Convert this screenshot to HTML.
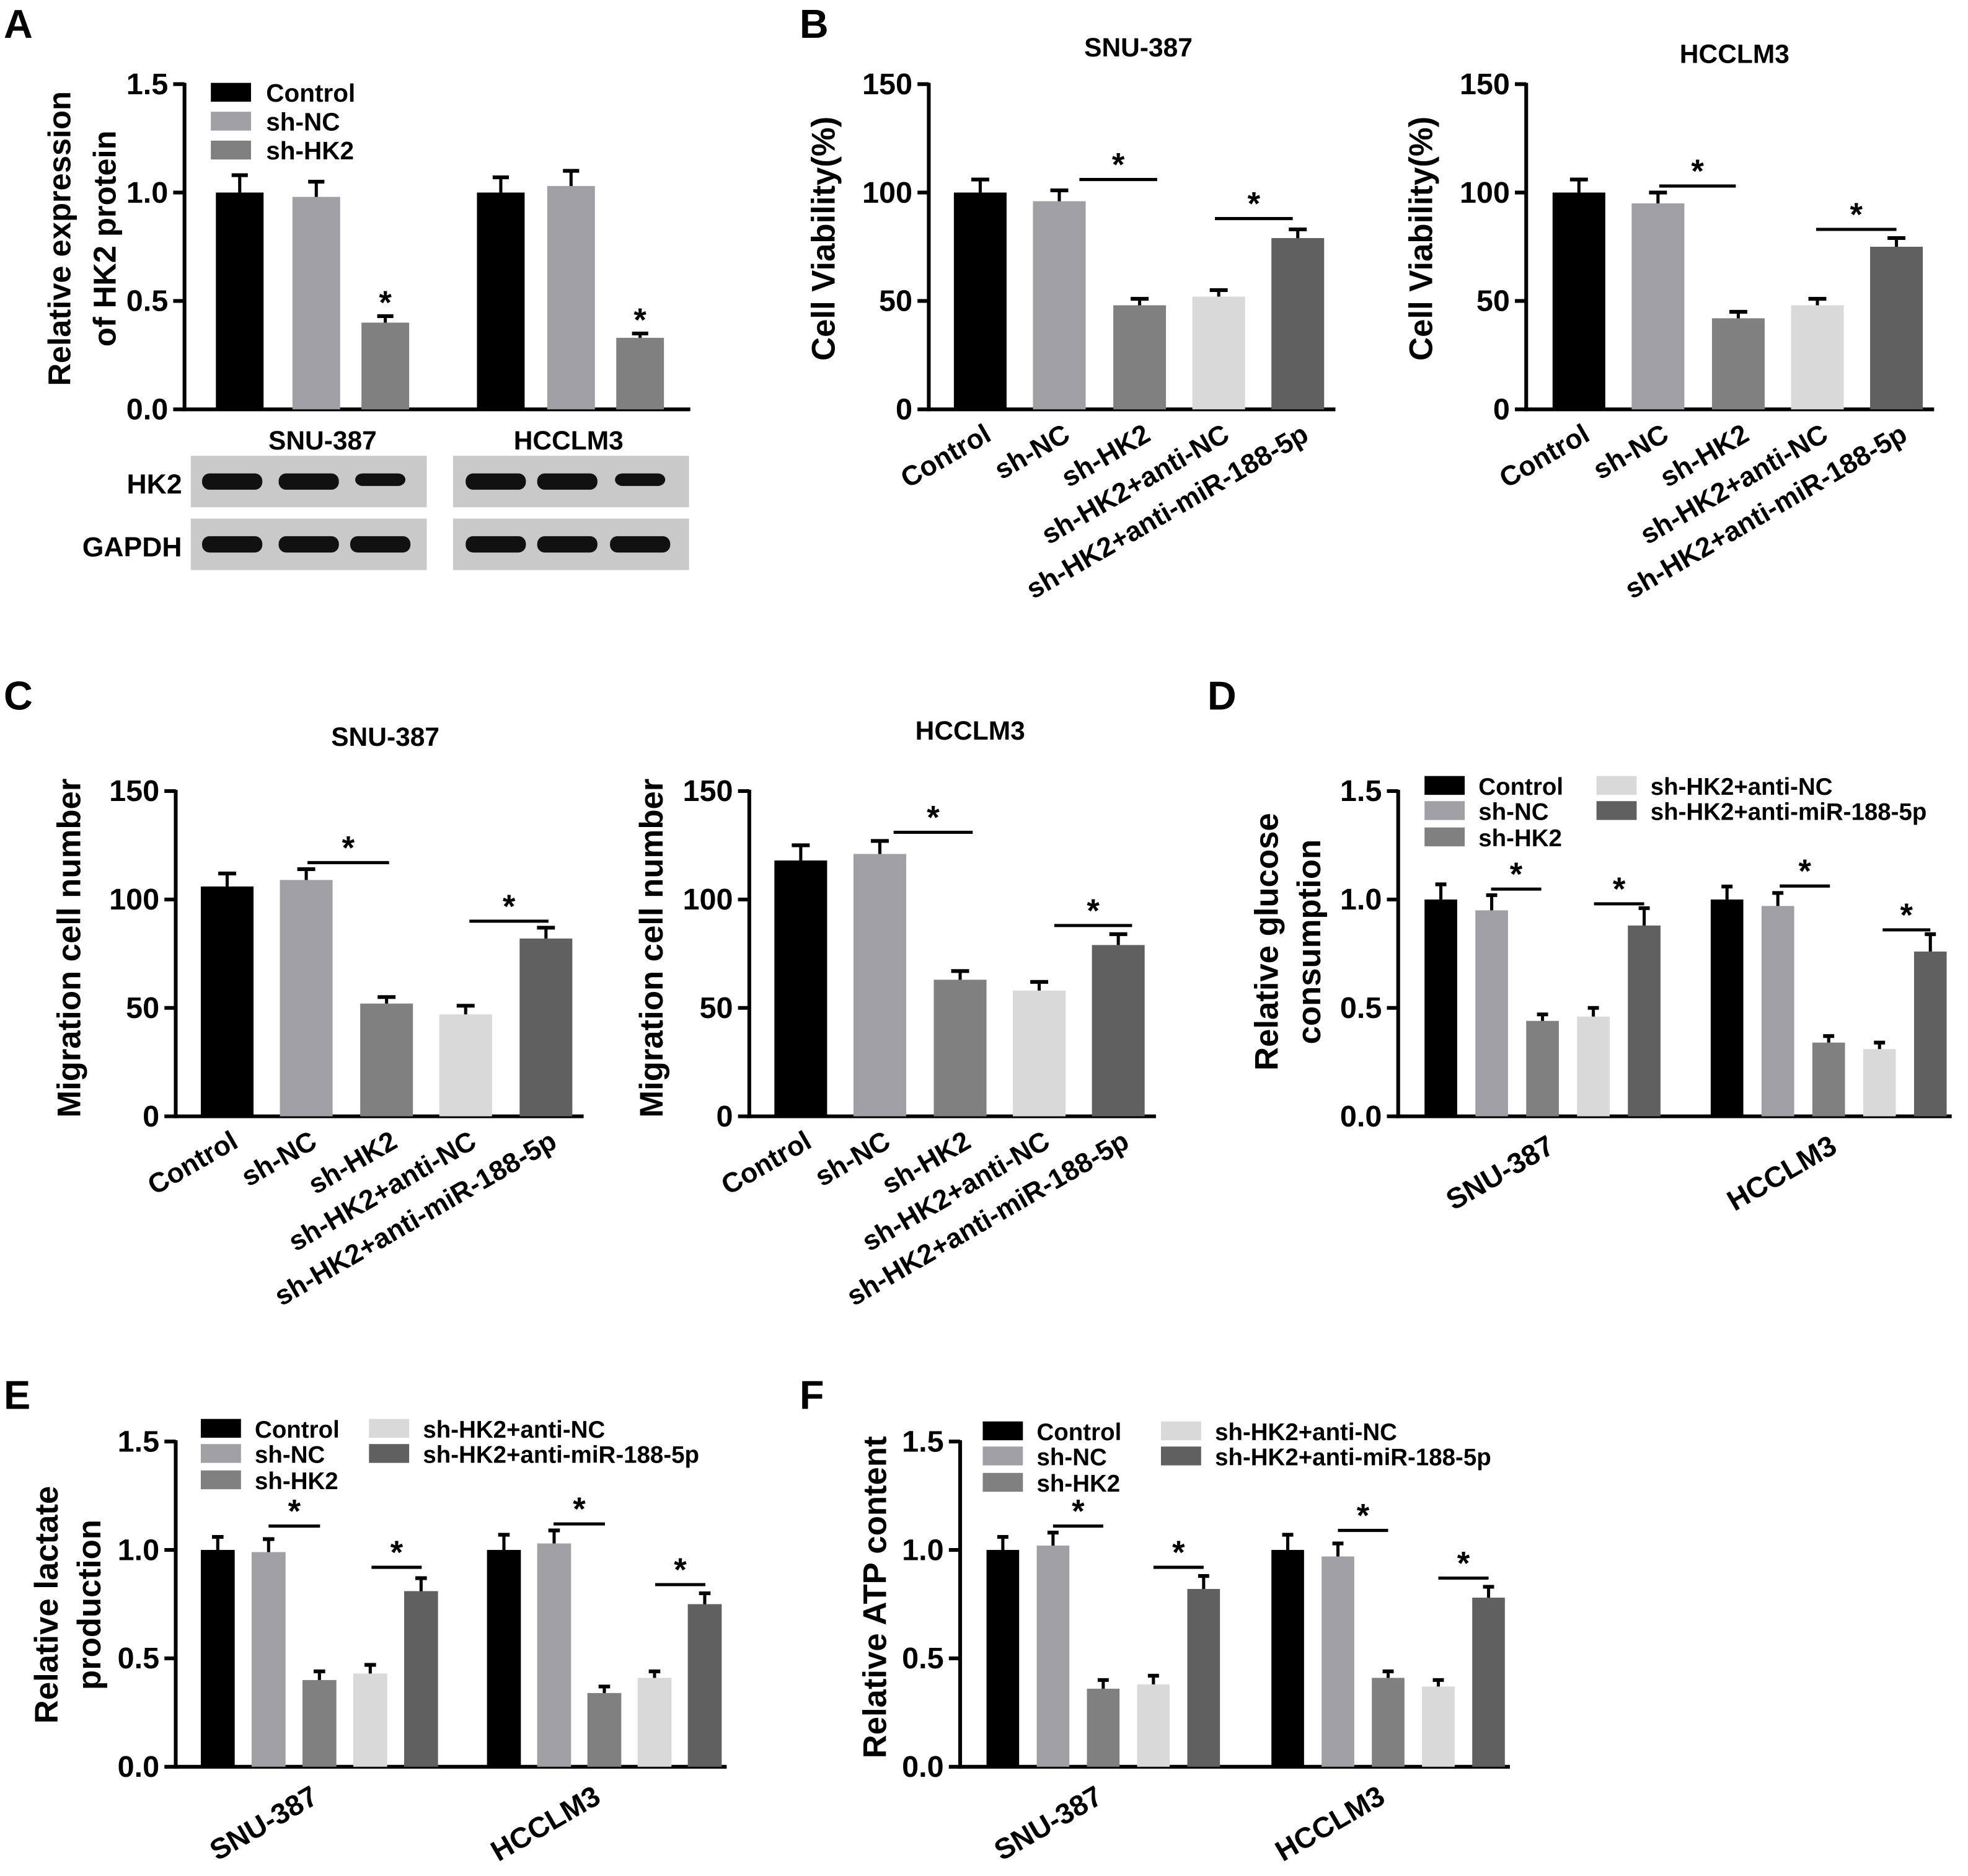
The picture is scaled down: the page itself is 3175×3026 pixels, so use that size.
<!DOCTYPE html>
<html><head><meta charset="utf-8"><style>
html,body{margin:0;padding:0;background:#fff}
svg{display:block}
text{font-family:"Liberation Sans",Arial,sans-serif;font-weight:bold;fill:#000}
</style></head><body>
<svg id="fig" width="3175" height="3026" viewBox="0 0 1568 1494" preserveAspectRatio="none" xmlns="http://www.w3.org/2000/svg">
<g id="root"></g>
</svg>
<script>
// ---- data ----
const groupsFive = ["Control","sh-NC","sh-HK2","sh-HK2+anti-NC","sh-HK2+anti-miR-188-5p"];
const groupsThree = ["Control","sh-NC","sh-HK2"];
const cellLines = ["SNU-387","HCCLM3"];
const ticksRel = [0,0.5,1.0,1.5];
const ticksRelLabels = ["0.0","0.5","1.0","1.5"];
const ticksCnt = [0,50,100,150];
const ticksCntLabels = ["0","50","100","150"];
const aVals = [[1.0,0.98,0.40],[1.0,1.03,0.33]];
const aErr = [[0.08,0.07,0.03],[0.07,0.07,0.02]];
const bSnuVals = [100,96,48,52,79];
const bSnuErr = [6,5,3,3,4];
const bHccVals = [100,95,42,48,75];
const bHccErr = [6,5,3,3,4];
const cSnuVals = [106,109,52,47,82];
const cSnuErr = [6,5,3,4,5];
const cHccVals = [118,121,63,58,79];
const cHccErr = [7,6,4,4,5];
const dVals = [[1.0,0.95,0.44,0.46,0.88],[1.0,0.97,0.34,0.31,0.76]];
const dErr = [[0.07,0.07,0.03,0.04,0.08],[0.06,0.06,0.03,0.03,0.08]];
const eVals = [[1.0,0.99,0.40,0.43,0.81],[1.0,1.03,0.34,0.41,0.75]];
const eErr = [[0.06,0.06,0.04,0.04,0.06],[0.07,0.06,0.03,0.03,0.05]];
const fVals = [[1.0,1.02,0.36,0.38,0.82],[1.0,0.97,0.41,0.37,0.78]];
const fErr = [[0.06,0.06,0.04,0.04,0.06],[0.07,0.06,0.03,0.03,0.05]];
const colors = ["#000000","#a0a0a4","#808080","#d9d9d9","#606060"];

const NS="http://www.w3.org/2000/svg";
const root=document.getElementById('root');
function el(tag,attrs,parent,txt){const e=document.createElementNS(NS,tag);for(const k in attrs)e.setAttribute(k,attrs[k]);if(txt!==undefined)e.textContent=txt;(parent||root).appendChild(e);return e;}

function axis(g,ax,y0,yTop,max,ticks,labels,xEnd){
  const sy=v=>y0-(v/max)*(y0-yTop);
  const a=el('line',{x1:ax,y1:y0+1.5,x2:ax,y2:yTop-1,stroke:'#000','stroke-width':3},g);
  
  
  const b=el('line',{x1:ax-1.5,y1:y0,x2:xEnd,y2:y0,stroke:'#000','stroke-width':3},g);
  
  
  ticks.forEach((t,i)=>{
    el('line',{x1:ax-9,y1:sy(t),x2:ax,y2:sy(t),stroke:'#000','stroke-width':3},g);
    const tl=el('text',{x:ax-13,y:sy(t)+8,'text-anchor':'end','font-size':24},g,labels[i]);
    
    
  });
  return sy;
}
function bar(g,sy,y0,x,w,v,e,c){
  const r=el('rect',{x:x,y:sy(v),width:w,height:y0-sy(v),fill:c},g);
  
  
  const cx=x+w/2;
  el('line',{x1:cx,y1:sy(v),x2:cx,y2:sy(v+e),stroke:'#000','stroke-width':2.5},g);
  el('line',{x1:cx-w*0.17,y1:sy(v+e),x2:cx+w*0.17,y2:sy(v+e),stroke:'#000','stroke-width':3},g);
}
function sig(g,x1,x2,y,fs){
  const l=el('line',{x1:x1,y1:y,x2:x2,y2:y,stroke:'#000','stroke-width':2.5},g);
  
  
  const s=el('text',{x:(x1+x2)/2,y:y-3,'text-anchor':'middle','font-size':fs||26},g,'*');
  
  
}
function ytitle(g,lines,xs,cy,fs){
  lines.forEach((t,i)=>{
    const tt=el('text',{x:xs[i],y:cy,'text-anchor':'middle','font-size':fs||25,transform:`rotate(-90 ${xs[i]} ${cy})`},g,t);
    
    
  });
}
function xlab(g,x,y,t,fs){
  const tt=el('text',{x:x,y:y,'text-anchor':'end','font-size':fs||21,transform:`rotate(-30 ${x} ${y})`},g,t);
  
  
}
function letter(x,y,t){
  const l=el('text',{x:x,y:y,'font-size':32},root,t);
  
  
}
function legend(g,x,ys,tx,names,cols,fs){
  names.forEach((n,i)=>{
    const r=el('rect',{x:x,y:ys[i]-8,width:32,height:15,fill:cols[i]},g);
    
    
    const t=el('text',{x:tx,y:ys[i]+7,'font-size':fs||20},g,n);
    
    
  });
}
function title(g,x,y,t){
  const tt=el('text',{x:x,y:y,'text-anchor':'middle','font-size':21},g,t);
  
  
}

letter(3,30,'A');letter(637,30,'B');letter(3,565,'C');letter(962,565,'D');letter(3,1122,'E');letter(637,1122,'F');

// ---- Panel A ----
(function(){
  const g=el('g',{});  
  const y0=326,ax=147;
  const sy=axis(g,ax,y0,67,1.5,ticksRel,ticksRelLabels,550);
  const starts=[[172,233,288],[380,436,491]];
  aVals.forEach((grp,gi)=>grp.forEach((v,i)=>{
    bar(g,sy,y0,starts[gi][i],38,v,aErr[gi][i],colors[i]);
    if(i===2){el('text',{x:starts[gi][i]+19,y:sy(v+aErr[gi][i])-2,'text-anchor':'middle','font-size':26},g,'*');}
  }));
  legend(g,168,[74,97,120],212,groupsThree,colors.slice(0,3),20);
  ytitle(g,["Relative expression","of HK2 protein"],[56,92],190,25);
  title(g,257,358,cellLines[0]);title(g,453,358,cellLines[1]);
  const bl=el('g',{});  
  [[152,[185,246,303]],[361,[395,452,510]]].forEach(([bx,lanes],bi)=>{
    [363,413].forEach((by,ri)=>{
      el('rect',{x:bx,y:by,width:188,height:41,fill:'#c9c9c9'},bl);
      lanes.forEach((lx,li)=>{
        const w=(ri===0&&li===2)?40:48;
        el('rect',{x:lx-w/2,y:by+14,width:w,height:ri===0&&li===2?10:13,rx:6,fill:'#111'},bl);
      });
    });
  });
  el('text',{x:145,y:393,'text-anchor':'end','font-size':22},bl,'HK2');
  el('text',{x:145,y:443,'text-anchor':'end','font-size':22},bl,'GAPDH');
})();

// ---- five-bar panels (B, C) ----
function fivePanel(name,ax,y0,yTop,centers,vals,errs,sigs,ttl,ttlx,ttly,ytl,ytx,yty){
  const g=el('g',{});  
  const sy=axis(g,ax,y0,yTop,150,ticksCnt,ticksCntLabels,centers[4]+30);
  vals.forEach((v,i)=>bar(g,sy,y0,centers[i]-21,42,v,errs[i],colors[i]));
  sigs.forEach(s=>sig(g,s[0],s[1],sy(s[2])));
  groupsFive.forEach((n,i)=>xlab(g,centers[i]+10,y0+24,n,22));
  title(g,ttlx,ttly,ttl);
  ytitle(g,[ytl],[ytx],yty,26);
}
fivePanel('panel-b-snu387',740,326,67,[781,844,908,971,1034],bSnuVals,bSnuErr,[[860,922,106],[968,1030,88]],cellLines[0],907,45,"Cell Viability(%)",665,190);
fivePanel('panel-b-hcclm3',1216,326,67,[1258,1321,1385,1448,1511],bHccVals,bHccErr,[[1322,1383,103],[1447,1511,83]],cellLines[1],1382,50,"Cell Viability(%)",1141,190);
fivePanel('panel-c-snu387',140,889,630,[181,244,308,371,435],cSnuVals,cSnuErr,[[245,310,117],[374,437,90]],cellLines[0],307,594,"Migration cell number",64,755);
fivePanel('panel-c-hcclm3',597,889,630,[638,701,765,828,891],cHccVals,cHccErr,[[712,775,131],[840,902,88]],cellLines[1],773,589,"Migration cell number",528,755);

// ---- grouped panels (D, E, F) ----
function groupPanel(name,ax,y0,yTop,starts,w,vals,errs,sigs,legX,legY,legX2,ytl,ytx,yty,xl){
  const g=el('g',{});  
  const sy=axis(g,ax,y0,yTop,1.5,ticksRel,ticksRelLabels,starts[1][4]+w+4);
  vals.forEach((grp,gi)=>grp.forEach((v,i)=>bar(g,sy,y0,starts[gi][i],w,v,errs[gi][i],colors[i])));
  sigs.forEach(s=>sig(g,s[0],s[1],sy(s[2])));
  legend(g,legX,[legY,legY+20,legY+41],legX+43,groupsFive.slice(0,3),colors.slice(0,3),19);
  legend(g,legX2,[legY,legY+20],legX2+43,groupsFive.slice(3),colors.slice(3),19);
  ytitle(g,ytl,ytx,yty,26);
  cellLines.forEach((c,i)=>xlab(g,xl[i],y0+28,c,23));
}
const sp=(a,b,step)=>[0,1,2,3,4].map(i=>a+i*step);
groupPanel('panel-d-glucose',1114,889,630,[sp(1135,0,40.5),sp(1363,0,40.5)],26,dVals,dErr,
  [[1188,1228,1.048],[1270,1310,0.98],[1418,1458,1.062],[1500,1538,0.86]],1135,626,1272,["Relative glucose","consumption"],[1018,1052],750,[1240,1465]);
groupPanel('panel-e-lactate',140,1407,1148,[sp(160,0,40.5),sp(388,0,40)],27,eVals,eErr,
  [[214,255,1.11],[296,336,0.92],[441,482,1.12],[522,562,0.84]],160,1138,294,["Relative lactate","production"],[46,80],1278,[255,480]);
groupPanel('panel-f-atp',765,1407,1148,[sp(786,0,40),sp(1013,0,40)],26,fVals,fErr,
  [[839,879,1.11],[919,959,0.92],[1066,1106,1.09],[1146,1186,0.87]],783,1140,925,["Relative ATP content"],[706],1272,[880,1105]);
</script>
</body></html>
